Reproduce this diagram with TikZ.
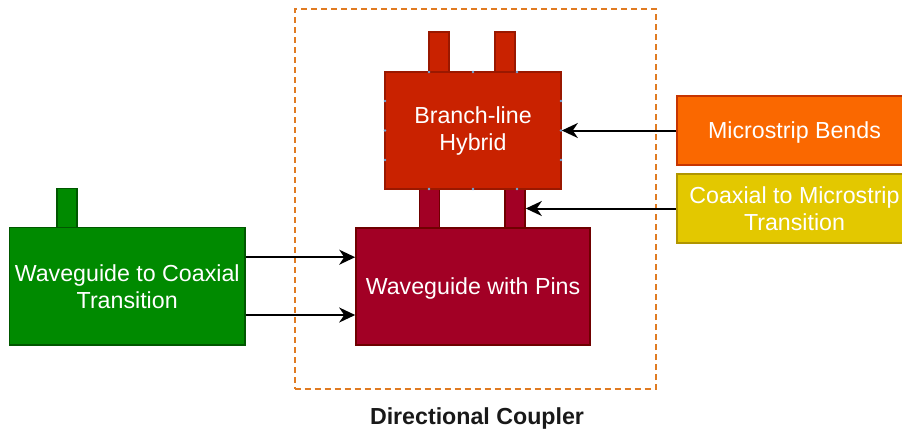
\documentclass[tikz,border=0pt]{standalone}
\usepackage{fontspec}
\setmainfont{Liberation Sans}
\usetikzlibrary{arrows.meta}
\definecolor{grnF}{HTML}{008A00}
\definecolor{grnD}{HTML}{005700}
\definecolor{hybF}{HTML}{C92200}
\definecolor{hybD}{HTML}{9A1800}
\definecolor{crmF}{HTML}{A20025}
\definecolor{crmD}{HTML}{6F0000}
\definecolor{orgF}{HTML}{FA6800}
\definecolor{orgD}{HTML}{C73500}
\definecolor{ylwF}{HTML}{E3C800}
\definecolor{ylwD}{HTML}{B09500}
\definecolor{dashC}{HTML}{E07B22}
\definecolor{portC}{HTML}{6FA8DC}
\tikzset{
  block/.style={rectangle, line width=1.6pt, inner sep=0pt, text=white,
    align=center, font=\fontsize{23.2}{27}\selectfont},
  wire/.style={line width=2pt, -{Stealth[length=16pt,width=15pt,inset=5pt]}},
  port/.style={circle, fill=portC, inner sep=0pt, minimum size=2.8pt},
}
\begin{document}
\begin{tikzpicture}[x=1pt,y=-1pt]
\useasboundingbox (0,0) rectangle (902,432);
\fill[white] (0,0) rectangle (902,432);

% directional coupler frame
\node[draw=dashC, line width=2pt, dash pattern=on 6pt off 4pt,
  minimum width=361pt, minimum height=380pt, inner sep=0pt] (frame) at (475,199.2) {};
\node[font=\fontsize{23.2}{27}\selectfont\bfseries, text=black!90] (title) at (477,418) {Directional Coupler};

% waveguide to coaxial transition
\node[block, fill=grnF, draw=grnD, minimum width=20pt, minimum height=39pt] (gstub) at (66.7,207.8) {};
\node[block, fill=grnF, draw=grnD, minimum width=235.7pt, minimum height=117.7pt] (green) at (127.2,286.2)
  {\rule{0pt}{18pt}Waveguide to Coaxial\\Transition};

% branch-line hybrid with its stubs
\node[block, fill=hybF, draw=hybD, minimum width=20pt, minimum height=40pt] (tstubA) at (439,52) {};
\node[block, fill=hybF, draw=hybD, minimum width=20pt, minimum height=40pt] (tstubB) at (505,52) {};
\node[block, fill=crmF, draw=crmD, minimum width=20pt, minimum height=39pt] (pinA) at (429.3,208.5) {};
\node[block, fill=crmF, draw=crmD, minimum width=20pt, minimum height=39pt] (pinB) at (515,208.5) {};
\node[block, fill=hybF, draw=hybD, minimum width=176pt, minimum height=117pt] (hybrid) at (473,130.5)
  {\rule{0pt}{18pt}Branch-line\\Hybrid};

% connection points on the hybrid
\foreach \px in {429,473,517} {
  \node[port] at (\px,72) {};
  \node[port] at (\px,189) {};
}
\foreach \py in {101,130.5,160} {
  \node[port] at (385,\py) {};
  \node[port] at (561,\py) {};
}

% waveguide with pins
\node[block, fill=crmF, draw=crmD, minimum width=234pt, minimum height=117pt] (wg) at (473,286.5)
  {\rule{0pt}{20pt}Waveguide with Pins};

% microstrip parts
\node[block, fill=orgF, draw=orgD, minimum width=235pt, minimum height=69pt] (bends) at (794.5,130.5)
  {\rule{0pt}{20pt}Microstrip Bends};
\node[block, fill=ylwF, draw=ylwD, minimum width=235pt, minimum height=69pt] (coax) at (794.5,208.5)
  {\rule{0pt}{18pt}Coaxial to Microstrip\\Transition};

% connectors
\draw[wire] ([yshift=29pt]green.east) -- ([yshift=29.3pt]wg.west);
\draw[wire] ([yshift=-28.8pt]green.east) -- ([yshift=-28.5pt]wg.west);
\draw[wire] (bends.west) -- (hybrid.east);
\draw[wire] (coax.west) -- (pinB.east);
\end{tikzpicture}
\end{document}
